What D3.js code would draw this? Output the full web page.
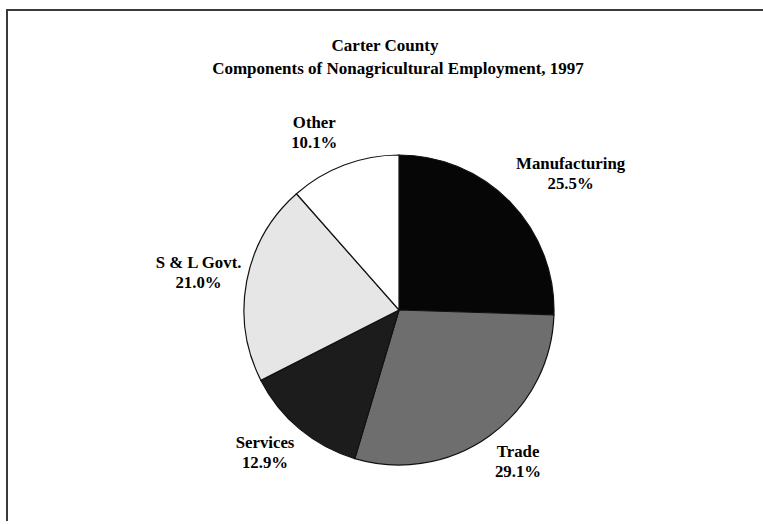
<!DOCTYPE html>
<html lang="en">
<head>
  <meta charset="UTF-8">
  <title>Carter County</title>
  <script src="https://d3js.org/d3.v7.min.js"></script>
  <style>
    body { margin: 0; background: #fff; }
  </style>
</head>
<body>
  <script>
    const categories = ["Manufacturing", "Trade", "Services", "S & L Govt.", "Other"];
    const shares = [25.5, 29.1, 12.9, 21.0, 10.1];
    const titleLines = ["Carter County", "Components of Nonagricultural Employment, 1997"];

    const width = 763, height = 524;
    const cx = 399, cy = 310, radius = 155;

    // small hand nudges so the labels sit where the original put them
    const labelNudge = {
      "Manufacturing": [28, 2],
      "Trade": [2, -11],
      "Services": [-6, -12],
      "S & L Govt.": [-4, -1],
      "Other": [-14, 9]
    };

    const fill = d3.scaleOrdinal()
      .domain(categories)
      .range(["#060606", "#6e6e6e", "#1c1c1c", "#e6e6e6", "#ffffff"]);

    const svg = d3.select("body")
      .append("svg")
      .attr("width", width)
      .attr("height", height);

    // frame (only top and left edges show in the scan)
    const frame = d3.path();
    frame.moveTo(7, 521);
    frame.lineTo(7, 10);
    frame.lineTo(width, 10);
    svg.append("path")
      .attr("d", frame.toString())
      .attr("fill", "none")
      .attr("stroke", "#3a3a3a")
      .attr("stroke-width", 2);

    // title
    svg.append("text")
      .attr("x", 385)
      .attr("y", 51)
      .attr("text-anchor", "middle")
      .style("font", "bold 17px 'Liberation Serif', 'Times New Roman', serif")
      .text(titleLines[0]);
    svg.append("text")
      .attr("x", 398)
      .attr("y", 74)
      .attr("text-anchor", "middle")
      .style("font", "bold 17px 'Liberation Serif', 'Times New Roman', serif")
      .text(titleLines[1]);

    // shares are percents of the whole circle; last slice closes the circle
    const angle = d3.scaleLinear().domain([0, 100]).range([0, 2 * Math.PI]);
    const pie = d3.pie()
      .sort(null)
      .value(d => d.value)
      .endAngle(angle(d3.sum(shares)));
    const slices = pie(categories.map((c, i) => ({ category: c, value: shares[i] })));
    slices[slices.length - 1].endAngle = 2 * Math.PI;

    const arc = d3.arc().innerRadius(0).outerRadius(radius);
    const labelArc = d3.arc().innerRadius(200).outerRadius(200);

    const g = svg.append("g")
      .attr("transform", `translate(${cx},${cy})`);

    g.selectAll(".slice")
      .data(slices)
      .join("path")
      .attr("class", "slice")
      .attr("d", arc)
      .attr("fill", d => fill(d.data.category))
      .attr("stroke", "#111")
      .attr("stroke-width", 1.2);

    const labels = g.selectAll(".label")
      .data(slices)
      .join("text")
      .attr("class", "label")
      .attr("text-anchor", "middle")
      .style("font", "bold 16.8px 'Liberation Serif', 'Times New Roman', serif")
      .attr("transform", d => {
        const [x, y] = labelArc.centroid(d);
        const [dx, dy] = labelNudge[d.data.category];
        return `translate(${x + dx},${y + dy})`;
      });

    labels.append("tspan")
      .attr("x", 0)
      .attr("y", -4)
      .text(d => d.data.category);
    labels.append("tspan")
      .attr("x", 0)
      .attr("y", 16)
      .text(d => d.data.value.toFixed(1) + "%");
  </script>
</body>
</html>
